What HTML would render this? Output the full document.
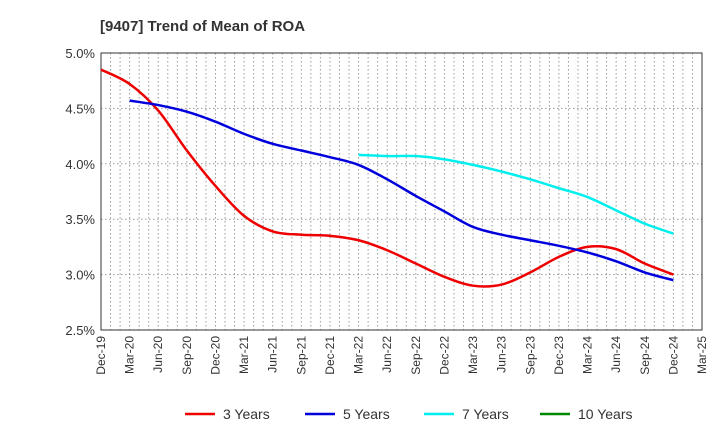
<!DOCTYPE html>
<html><head><meta charset="utf-8"><style>
body{margin:0;background:#fff;font-family:"Liberation Sans",Arial,sans-serif}
svg text{font-family:"Liberation Sans",Arial,sans-serif}
</style></head><body>
<svg id="chart" width="720" height="440" xmlns="http://www.w3.org/2000/svg">
<text x="100" y="31" font-size="15" font-weight="bold" fill="#333">[9407]  Trend of Mean of ROA</text>
<g id="grid"></g>
<g id="axes"></g>
<g id="series"></g>
<g id="legend"></g>
</svg>
<script>
const xLabels=["Dec-19","Mar-20","Jun-20","Sep-20","Dec-20","Mar-21","Jun-21","Sep-21","Dec-21","Mar-22","Jun-22","Sep-22","Dec-22","Mar-23","Jun-23","Sep-23","Dec-23","Mar-24","Jun-24","Sep-24","Dec-24","Mar-25"];
const yTicks=[2.5,3.0,3.5,4.0,4.5,5.0];
const s3=[4.85,4.72,4.48,4.12,3.80,3.53,3.39,3.36,3.35,3.31,3.22,3.10,2.98,2.90,2.91,3.02,3.16,3.25,3.23,3.10,3.00];
const s5=[null,4.57,4.53,4.47,4.38,4.27,4.18,4.12,4.06,3.99,3.86,3.71,3.57,3.43,3.36,3.31,3.26,3.20,3.12,3.02,2.95];
const s7=[null,null,null,null,null,null,null,null,null,4.08,4.07,4.07,4.04,3.99,3.93,3.86,3.78,3.70,3.58,3.46,3.37];
const s10=[];
const L=101,R=702,T=53,B=330;
const NS="http://www.w3.org/2000/svg";
const x=i=>L+(R-L)*i/(xLabels.length-1);
const y=v=>B-(v-2.5)/(2.5)*(B-T);
function mk(t,a,p){const e=document.createElementNS(NS,t);for(const k in a)e.setAttribute(k,a[k]);p.appendChild(e);return e;}
const grid=document.getElementById('grid'),axes=document.getElementById('axes'),ser=document.getElementById('series'),leg=document.getElementById('legend');
for(let m=1;m<(xLabels.length-1)*3;m++){const xx=L+(R-L)*m/((xLabels.length-1)*3);
const g=mk('line',{x1:xx,x2:xx,y1:T,y2:B,stroke:'#999','stroke-dasharray':'1.5,2.5'},grid);
}
yTicks.forEach(v=>{const g=mk('line',{x1:L,x2:R,y1:y(v),y2:y(v),stroke:'#999','stroke-dasharray':'1.5,2.5'},grid);

const t=mk('text',{x:L-6,y:y(v)+5,'text-anchor':'end','font-size':'13',fill:'#333'},axes);t.textContent=v.toFixed(1)+'%';
});
const fr=mk('rect',{x:L,y:T,width:R-L,height:B-T,fill:'none',stroke:'#333','stroke-width':1},axes);

xLabels.forEach((lb,i)=>{const t=mk('text',{transform:`translate(${x(i)+4},${B+6}) rotate(-90)`,'text-anchor':'end','font-size':'12',fill:'#333'},axes);t.textContent=lb;
});
function path(arr){const p=[];arr.forEach((v,i)=>{if(v!=null)p.push([x(i),y(v)]);});if(p.length<2)return'';
let d=`M${p[0][0]},${p[0][1]}`;for(let i=0;i<p.length-1;i++){const p0=p[i-1]||p[i],p1=p[i],p2=p[i+1],p3=p[i+2]||p2;
d+=` C${p1[0]+(p2[0]-p0[0])/6},${p1[1]+(p2[1]-p0[1])/6} ${p2[0]-(p3[0]-p1[0])/6},${p2[1]-(p3[1]-p1[1])/6} ${p2[0]},${p2[1]}`;}return d;}
const series=[[s3,'#ee0000','3 Years','line-3-years'],[s5,'#0000dd','5 Years','line-5-years'],[s7,'#00eeee','7 Years','line-7-years'],[s10,'#008800','10 Years','line-10-years']];
series.forEach(([a,c,n,dn])=>{const d=path(a);if(d){const e=mk('path',{d,fill:'none',stroke:c,'stroke-width':2.5},ser);
}});
const lx=[185,305,424,540];
series.forEach(([a,c,n,dn],i)=>{const g=mk('g',{},leg);
mk('line',{x1:lx[i],x2:lx[i]+30,y1:414,y2:414,stroke:c,'stroke-width':2.5},g);
const t=mk('text',{x:lx[i]+38,y:419,'font-size':'14',fill:'#333'},g);t.textContent=n;});
</script>
</body></html>
